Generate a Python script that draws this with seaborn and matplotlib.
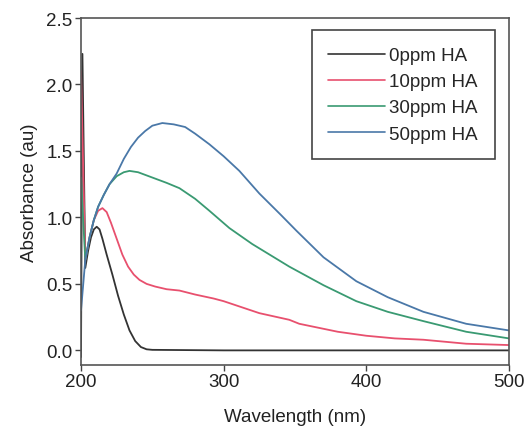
import numpy as np
import pandas as pd
import matplotlib
matplotlib.use("Agg")
import matplotlib.pyplot as plt
import seaborn as sns

series_names = ["0ppm HA", "10ppm HA", "30ppm HA", "50ppm HA"]
colors = ["#333333", "#e8506e", "#3a9a72", "#4a78a8"]

wl_0 = [200, 201, 203, 205, 207, 209, 211, 213, 215, 218, 222, 226, 230, 234, 238, 242, 246, 250, 300, 400, 500]
ab_0 = [-0.05, 2.23, 0.62, 0.75, 0.85, 0.91, 0.93, 0.91, 0.84, 0.72, 0.57, 0.41, 0.27, 0.15, 0.07, 0.025, 0.008, 0.004, 0.0, 0.0, 0.0]

wl_10 = [200, 203, 206, 209, 212, 215, 218, 221, 225, 229, 233, 237, 241, 246, 252, 260, 269, 280, 293, 300, 325, 346, 353, 380, 400, 420, 440, 470, 500]
ab_10 = [2.1, 0.68, 0.85, 0.98, 1.05, 1.07, 1.04, 0.96, 0.84, 0.72, 0.63, 0.57, 0.53, 0.50, 0.48, 0.46, 0.45, 0.42, 0.39, 0.37, 0.28, 0.23, 0.20, 0.14, 0.11, 0.09, 0.08, 0.05, 0.04]

wl_30 = [200, 203, 206, 209, 212, 216, 220, 225, 230, 234, 240, 250, 260, 269, 280, 290, 304, 320, 346, 370, 393, 415, 440, 470, 500]
ab_30 = [1.3, 0.68, 0.85, 0.98, 1.08, 1.17, 1.25, 1.31, 1.34, 1.35, 1.34, 1.30, 1.26, 1.22, 1.14, 1.05, 0.92, 0.80, 0.63, 0.49, 0.37, 0.29, 0.22, 0.14, 0.09]

wl_50 = [200, 203, 206, 209, 212, 216, 220, 225, 230, 235, 240, 245, 250, 257, 265, 273, 280, 290, 300, 311, 325, 340, 351, 370, 393, 415, 440, 470, 500]
ab_50 = [0.3, 0.68, 0.85, 0.98, 1.08, 1.17, 1.25, 1.33, 1.44, 1.53, 1.60, 1.65, 1.69, 1.71, 1.70, 1.68, 1.63, 1.55, 1.46, 1.35, 1.18, 1.02, 0.90, 0.70, 0.52, 0.40, 0.29, 0.20, 0.15]

frames = []
for name, wl, ab in zip(series_names, [wl_0, wl_10, wl_30, wl_50], [ab_0, ab_10, ab_30, ab_50]):
    frames.append(pd.DataFrame({"Wavelength": wl, "Absorbance": ab, "Series": name}))
df = pd.concat(frames, ignore_index=True)

sns.set_style("ticks")
plt.rcParams["font.family"] = ["Liberation Sans", "DejaVu Sans"]

fig = plt.figure(figsize=(5.29, 4.35), dpi=100)
ax = fig.add_axes([81/529, 1-366/435, 428/529, 347/435])

sns.lineplot(data=df, x="Wavelength", y="Absorbance", hue="Series",
             hue_order=series_names, palette=dict(zip(series_names, colors)),
             linewidth=1.3, ax=ax, sort=False, estimator=None)

ax.set_xlim(200, 500)
ax.set_ylim(-0.11, 2.5)
ax.set_xticks([200, 300, 400, 500])
ax.set_yticks([0.0, 0.5, 1.0, 1.5, 2.0, 2.5])
ax.set_yticklabels(["0.0", "0.5", "1.0", "1.5", "2.0", "2.5"])
ax.tick_params(axis="both", labelsize=13.5, colors="#444444", length=4, width=1, direction="out", pad=2)
ax.tick_params(axis="both", labelcolor="#222222")
ax.set_xlabel("Wavelength (nm)", fontsize=13.5, color="#222222", labelpad=13)
ax.set_ylabel("Absorbance (au)", fontsize=13.5, color="#222222", labelpad=6)
for s in ax.spines.values():
    s.set_visible(True)
    s.set_color("#555555")
    s.set_linewidth(1.2)

leg = ax.legend(loc="upper right", bbox_to_anchor=(0.967, 0.965), fontsize=13.5,
                frameon=True, fancybox=False, edgecolor="#444444", framealpha=1,
                handlelength=3.0, handletextpad=0.25, labelspacing=0.48,
                borderpad=0.9, borderaxespad=0.0, title=None)
leg.get_frame().set_linewidth(1.2)
for line in leg.get_lines():
    line.set_linewidth(1.2)

fig.savefig("out.png", dpi=100)
